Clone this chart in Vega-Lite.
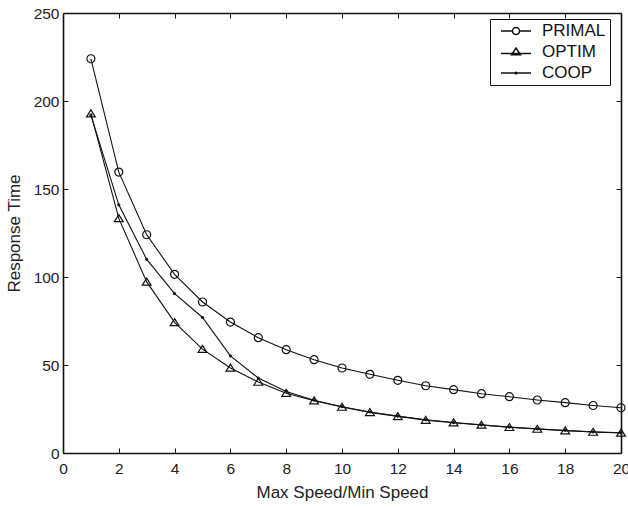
{
  "$schema": "https://vega.github.io/schema/vega-lite/v6.json",
  "autosize": "none",
  "width": 558,
  "height": 440,
  "padding": {"left": 63, "top": 13, "right": 7, "bottom": 54},
  "background": "white",
  "config": {
    "view": {"stroke": null},
    "font": "Liberation Sans",
    "axis": {
      "domainColor": "#111",
      "domainWidth": 1.6,
      "tickColor": "#111",
      "tickWidth": 1,
      "tickSize": -5,
      "labelFont": "Liberation Sans",
      "labelFontSize": 15.5,
      "labelColor": "#222",
      "titleFont": "Liberation Sans",
      "titleFontSize": 17,
      "titleFontWeight": "normal",
      "titleColor": "#222",
      "grid": false
    }
  },
  "data": {
    "values": [
      {"series": "PRIMAL", "x": 1, "y": 224},
      {"series": "PRIMAL", "x": 2, "y": 159.6},
      {"series": "PRIMAL", "x": 3, "y": 124},
      {"series": "PRIMAL", "x": 4, "y": 101.5},
      {"series": "PRIMAL", "x": 5, "y": 85.8},
      {"series": "PRIMAL", "x": 6, "y": 74.4},
      {"series": "PRIMAL", "x": 7, "y": 65.5},
      {"series": "PRIMAL", "x": 8, "y": 58.7},
      {"series": "PRIMAL", "x": 9, "y": 53},
      {"series": "PRIMAL", "x": 10, "y": 48.3},
      {"series": "PRIMAL", "x": 11, "y": 44.7},
      {"series": "PRIMAL", "x": 12, "y": 41.3},
      {"series": "PRIMAL", "x": 13, "y": 38.2},
      {"series": "PRIMAL", "x": 14, "y": 36},
      {"series": "PRIMAL", "x": 15, "y": 33.7},
      {"series": "PRIMAL", "x": 16, "y": 32},
      {"series": "PRIMAL", "x": 17, "y": 30.1},
      {"series": "PRIMAL", "x": 18, "y": 28.6},
      {"series": "PRIMAL", "x": 19, "y": 27},
      {"series": "PRIMAL", "x": 20, "y": 25.7},
      {"series": "OPTIM", "x": 1, "y": 192.8},
      {"series": "OPTIM", "x": 2, "y": 133.3},
      {"series": "OPTIM", "x": 3, "y": 97.2},
      {"series": "OPTIM", "x": 4, "y": 74.2},
      {"series": "OPTIM", "x": 5, "y": 59},
      {"series": "OPTIM", "x": 6, "y": 48.3},
      {"series": "OPTIM", "x": 7, "y": 40.3},
      {"series": "OPTIM", "x": 8, "y": 34},
      {"series": "OPTIM", "x": 9, "y": 29.7},
      {"series": "OPTIM", "x": 10, "y": 26.1},
      {"series": "OPTIM", "x": 11, "y": 23.1},
      {"series": "OPTIM", "x": 12, "y": 20.8},
      {"series": "OPTIM", "x": 13, "y": 18.7},
      {"series": "OPTIM", "x": 14, "y": 17.2},
      {"series": "OPTIM", "x": 15, "y": 15.9},
      {"series": "OPTIM", "x": 16, "y": 14.6},
      {"series": "OPTIM", "x": 17, "y": 13.6},
      {"series": "OPTIM", "x": 18, "y": 12.7},
      {"series": "OPTIM", "x": 19, "y": 11.9},
      {"series": "OPTIM", "x": 20, "y": 11.4},
      {"series": "COOP", "x": 1, "y": 192},
      {"series": "COOP", "x": 2, "y": 141},
      {"series": "COOP", "x": 3, "y": 110},
      {"series": "COOP", "x": 4, "y": 90.5},
      {"series": "COOP", "x": 5, "y": 77},
      {"series": "COOP", "x": 6, "y": 55.2},
      {"series": "COOP", "x": 7, "y": 42.6},
      {"series": "COOP", "x": 8, "y": 35},
      {"series": "COOP", "x": 9, "y": 30},
      {"series": "COOP", "x": 10, "y": 26.3},
      {"series": "COOP", "x": 11, "y": 23.3},
      {"series": "COOP", "x": 12, "y": 21},
      {"series": "COOP", "x": 13, "y": 18.9},
      {"series": "COOP", "x": 14, "y": 17.3},
      {"series": "COOP", "x": 15, "y": 16},
      {"series": "COOP", "x": 16, "y": 14.7},
      {"series": "COOP", "x": 17, "y": 13.7},
      {"series": "COOP", "x": 18, "y": 12.8},
      {"series": "COOP", "x": 19, "y": 12},
      {"series": "COOP", "x": 20, "y": 11.5}
    ]
  },
  "layer": [
    {
      "mark": {"type": "line", "color": "#111", "strokeWidth": 1.1},
      "encoding": {
        "x": {"field": "x", "type": "quantitative", "scale": {"domain": [0, 20], "nice": false, "zero": false},
              "axis": {"orient": "bottom", "title": "Max Speed/Min Speed", "values": [0,2,4,6,8,10,12,14,16,18,20], "labelPadding": 13, "titlePadding": 8, "labelFlush": false, "labelOverlap": false}},
        "y": {"field": "y", "type": "quantitative", "scale": {"domain": [0, 250], "nice": false},
              "axis": {"orient": "left", "title": "Response Time", "values": [0,50,100,150,200,250], "labelPadding": 9, "titlePadding": 10, "labelFlush": false, "labelOverlap": false}},
        "detail": {"field": "series", "type": "nominal"}
      }
    },
    {
      "mark": {"type": "point", "filled": false, "stroke": "#111", "strokeWidth": 1.2, "opacity": 1, "size": 64},
      "encoding": {
        "x": {"field": "x", "type": "quantitative", "axis": null},
        "y": {"field": "y", "type": "quantitative", "axis": null},
        "shape": {
          "field": "series", "type": "nominal",
          "scale": {"domain": ["PRIMAL", "OPTIM", "COOP"], "range": ["M1,0A1,1,0,1,1,-1,0A1,1,0,1,1,1,0", "M0,-0.95L1.1,0.8L-1.1,0.8Z", "M0.25,0A0.25,0.25,0,1,1,-0.25,0A0.25,0.25,0,1,1,0.25,0"]},
          "legend": null
        }
      }
    },
    {
      "mark": {"type": "point", "filled": false, "stroke": "#111", "strokeWidth": 1.1, "opacity": 0, "size": 256},
      "encoding": {
        "x": {"field": "x", "type": "quantitative",
              "axis": {"orient": "top", "title": null, "labels": false, "values": [0,2,4,6,8,10,12,14,16,18,20]}},
        "y": {"field": "y", "type": "quantitative",
              "axis": {"orient": "right", "title": null, "labels": false, "values": [0,50,100,150,200,250]}},
        "shape": {
          "field": "series", "type": "nominal",
          "scale": {"domain": ["PRIMAL", "OPTIM", "COOP"], "range": ["M-1.875,0H-0.44M0.44,0H1.875M0.44,0A0.44,0.44,0,1,1,-0.44,0A0.44,0.44,0,1,1,0.44,0", "M-1.875,0.2H1.875M0,-0.5L0.56,0.35L-0.56,0.35Z", "M-1.875,0H1.875M0.1,0A0.1,0.1,0,1,1,-0.1,0A0.1,0.1,0,1,1,0.1,0"]},
          "legend": {
            "title": null,
            "orient": "none",
            "legendX": 427,
            "legendY": 6,
            "strokeColor": "#111",
            "fillColor": "white",
            "padding": 4,
            "symbolSize": 256,
            "symbolOffset": 13,
            "labelOffset": 17,
            "rowPadding": 4,
            "clipHeight": 16,
            "labelFont": "Liberation Sans",
            "labelFontSize": 17,
            "labelColor": "#111",
            "encode": {
              "legend": {"update": {"strokeWidth": {"value": 1.5}}},
              "symbols": {
                "update": {
                  "size": {"value": 256},
                  "stroke": {"value": "#111"},
                  "strokeWidth": {"value": 1.1},
                  "fill": {"value": "transparent"},
                  "opacity": {"value": 1}
                }
              }
            }
          }
        }
      }
    }
  ],
  "resolve": {"axis": {"x": "independent", "y": "independent"}, "scale": {"shape": "independent"}}
}
